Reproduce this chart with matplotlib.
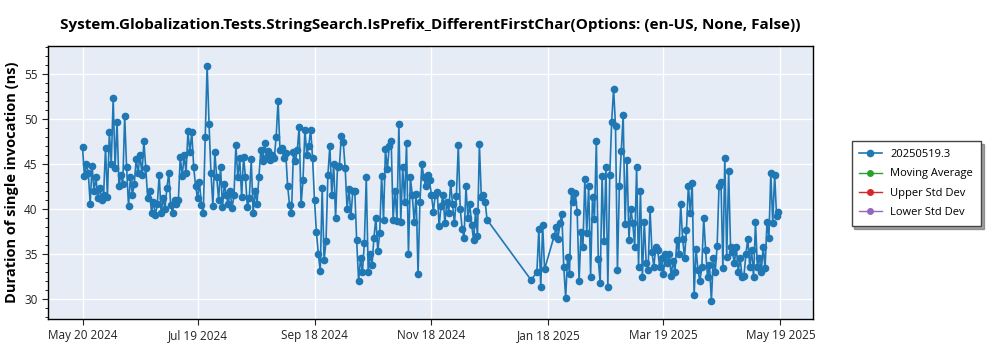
import numpy as np
import pandas as pd
import matplotlib
matplotlib.use("Agg")
import matplotlib.pyplot as plt
import matplotlib.dates as mdates
from matplotlib.ticker import MultipleLocator

plt.rcParams['font.family'] = ['Open Sans', 'DejaVu Sans']

TITLE = "System.Globalization.Tests.StringSearch.IsPrefix_DifferentFirstChar(Options: (en-US, None, False))"
SERIES_NAME = "20250519.3"

# daily results, May 20 2024 .. Dec 16 2024
start_a = "2024-05-20"
values_a = [
    46.9, 43.6, 45.0, 44.0, 40.6, 44.8, 42.0, 43.5, 41.2, 42.3,
    41.0, 41.5, 46.8, 41.3, 48.5, 45.0, 52.3, 44.5, 49.7, 42.6,
    43.8, 42.8, 50.3, 44.6, 40.3, 43.5, 41.6, 42.8, 45.5, 44.0,
    46.0, 43.8, 47.5, 44.5, 41.2, 42.0, 39.6, 40.8, 39.3, 40.5,
    43.8, 39.5, 41.2, 40.0, 42.3, 44.0, 40.4, 39.6, 41.0, 40.5,
    41.0, 45.8, 43.6, 46.0, 44.0, 48.6, 46.3, 48.5, 44.6, 42.5,
    41.2, 43.0, 40.4, 39.6, 48.0, 55.9, 49.4, 44.0, 40.3, 46.3,
    43.5, 41.0, 44.6, 40.2, 42.8, 41.5, 40.5, 42.0, 40.1, 41.5,
    47.1, 43.5, 45.6, 41.3, 45.8, 43.5, 40.2, 41.2, 45.5, 39.5,
    42.0, 40.6, 43.5, 46.5, 45.3, 47.3, 45.8, 46.4, 45.4, 46.0,
    45.6, 48.0, 52.0, 46.5, 46.8, 45.6, 46.2, 42.5, 40.4, 39.5,
    46.3, 45.3, 46.5, 49.1, 40.5, 43.2, 48.8, 46.0, 47.0, 48.8,
    45.6, 41.0, 37.4, 35.0, 33.1, 42.3, 34.3, 36.4, 43.8, 47.0,
    41.5, 45.0, 39.0, 44.7, 44.8, 48.1, 47.4, 44.5, 40.0, 42.2,
    39.2, 42.0, 42.0, 36.5, 32.0, 34.5, 33.0, 36.2, 43.5, 33.0,
    35.0, 33.8, 36.8, 39.0, 35.3, 37.3, 43.7, 38.8, 46.6, 44.4,
    47.0, 47.5, 38.8, 42.0, 38.7, 49.4, 38.6, 44.6, 40.8, 47.3,
    35.0, 43.5, 41.5, 38.5, 41.7, 32.8, 40.8, 45.0, 43.5, 42.5,
    43.8, 43.2, 41.5, 39.7, 41.6, 41.9, 38.1, 40.3, 41.5, 38.4,
    40.8, 39.6, 42.9, 40.5, 38.4, 41.4, 47.1, 40.0, 37.8, 36.8,
    42.5, 39.0, 40.5, 38.2, 36.5, 39.8, 37.0, 47.2, 41.3, 41.5,
    40.8, 38.8,
]

# single run after the holiday gap
date_b = "2025-01-09"
value_b = 32.1

# daily results, Jan 12 2025 .. May 18 2025 (nan = no run that day)
start_c = "2025-01-12"
values_c = [
    33.0, 37.8, 31.3, 38.2, 33.3, np.nan, np.nan, np.nan, np.nan, 37.0,
    38.0, 36.7, 38.4, 39.4, 33.6, 30.1, 34.7, 32.8, 42.0, 40.8,
    41.8, 39.7, 32.0, 37.4, 35.8, 43.3, 37.3, 42.6, 32.5, 41.3,
    38.9, 47.5, 34.4, 31.8, 43.7, 36.4, 44.6, 31.3, 43.8, 49.7,
    53.3, 49.2, 33.2, 42.5, 46.4, 50.4, 38.3, 45.4, 36.6, 40.0,
    38.4, 35.8, 44.7, 33.6, 42.0, 32.4, 38.6, 34.0, 33.2, 40.0,
    35.2, 33.6, 35.8, 35.4, 33.6, 34.5, 32.8, 35.0, 34.0, 35.0,
    32.6, 34.2, 33.0, 36.6, 35.0, 40.5, 36.7, 34.6, 37.7, 42.6,
    39.6, 42.9, 30.4, 35.6, 33.2, 32.0, 33.5, 39.0, 35.4, 32.4,
    33.8, 29.8, 34.5, 33.0, 35.9, 42.6, 43.0, 33.4, 45.7, 34.7,
    44.2, 35.8, 35.2, 34.0, 35.8, 33.0, 34.6, 32.4, 32.6, 35.0,
    36.7, 33.6, 35.4, 32.4, 38.5, 33.6, 34.6, 33.0, 35.8, 33.4,
    38.5, 36.8, 44.0, 38.4, 43.8, 39.2, 39.7,
]

tick_dates = ["2024-05-20", "2024-07-19", "2024-09-18", "2024-11-18",
              "2025-01-18", "2025-03-19", "2025-05-19"]

legend_names = [SERIES_NAME, "Moving Average", "Upper Std Dev", "Lower Std Dev"]
legend_colors = ["#1f77b4", "#2ca02c", "#d62728", "#9467bd"]

dates_a = pd.date_range(start_a, periods=len(values_a), freq="D")
dates_c = pd.date_range(start_c, periods=len(values_c), freq="D")
dates = np.concatenate([dates_a.values, [np.datetime64(date_b)], dates_c.values])
vals = np.concatenate([values_a, [value_b], values_c])
keep = ~np.isnan(vals)
dates, vals = dates[keep], vals[keep]

fig = plt.figure(figsize=(10, 3.5), dpi=100)
ax = fig.add_axes([0.048, 0.089, 0.765, 0.78])
ax.set_facecolor("#e5ecf6")

ax.plot(dates, vals, color=legend_colors[0], marker="o", markersize=4.5,
        linewidth=1.2, label=legend_names[0], zorder=3)
# empty companion series, only shown in the legend
for name, col in zip(legend_names[1:], legend_colors[1:]):
    ax.plot([], [], color=col, marker="o", markersize=4, linewidth=1, label=name)

ax.set_xlim(pd.Timestamp("2024-05-02"), pd.Timestamp("2025-06-05"))
ax.set_ylim(27.8, 58.1)
ax.set_xticks(pd.to_datetime(tick_dates))
ax.xaxis.set_major_formatter(mdates.DateFormatter("%b %d %Y"))
ax.yaxis.set_major_locator(MultipleLocator(5))
ax.yaxis.set_minor_locator(MultipleLocator(1))

ax.grid(True, color="white", linewidth=1)
ax.set_axisbelow(True)
ax.tick_params(axis="both", labelsize=8.5, colors="#222222", length=4)
ax.tick_params(axis="y", which="minor", length=2)
for s in ax.spines.values():
    s.set_color("black")
    s.set_linewidth(1)

ax.set_ylabel("Duration of single invocation (ns)", fontsize=10.5, fontweight="bold")
ax.set_title(TITLE, fontsize=11, fontweight="bold", pad=12)

leg = fig.legend(loc="upper left", bbox_to_anchor=(0.846, 0.612), fontsize=8,
                 frameon=True, fancybox=False, shadow=True, handlelength=2,
                 borderpad=0.7, labelspacing=0.75)
leg.get_frame().set_edgecolor("#444444")

fig.savefig("out.png", dpi=100)
